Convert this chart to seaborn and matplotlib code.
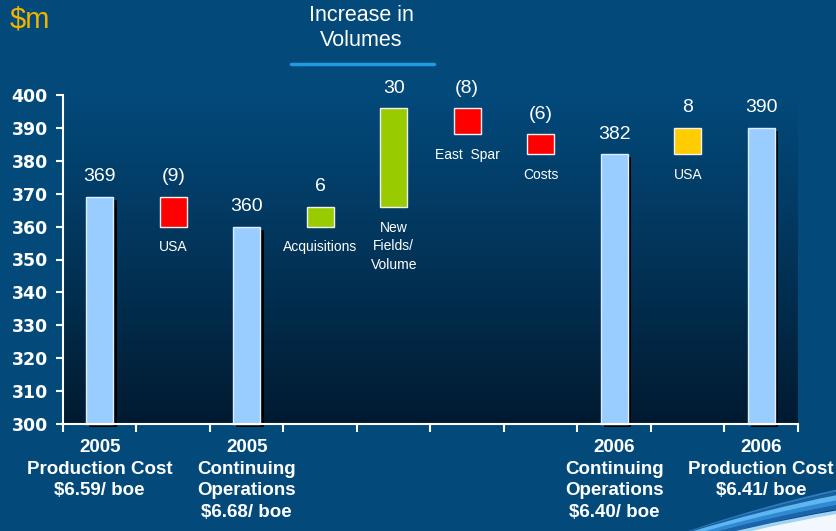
import numpy as np
import pandas as pd
import matplotlib
matplotlib.use("Agg")
import matplotlib.pyplot as plt
import matplotlib.patheffects as pe
from matplotlib.patches import Circle
import seaborn as sns

# ---------------- data ----------------
steps = ["2005 Production Cost", "USA 2005", "2005 Continuing Operations",
         "Acquisitions", "New Fields/Volume", "East Spar", "Costs",
         "2006 Continuing Operations", "USA 2006", "2006 Production Cost"]
step_values = [369, -9, 360, 6, 30, -8, -6, 382, 8, 390]
step_kinds = ["total", "decrease", "total", "increase", "increase",
              "decrease", "decrease", "total", "usa", "total"]
value_labels = ["369", "(9)", "360", "6", "30", "(8)", "(6)", "382", "8", "390"]
step_names = ["", "USA", "", "Acquisitions", "New\nFields/\nVolume",
              "East  Spar", "Costs", "", "USA", ""]
axis_labels = ["2005\nProduction Cost\n\\$6.59/ boe", "",
               "2005\nContinuing\nOperations\n\\$6.68/ boe", "", "", "", "",
               "2006\nContinuing\nOperations\n\\$6.40/ boe", "",
               "2006\nProduction Cost\n\\$6.41/ boe"]
y_ticks = list(range(300, 401, 10))
unit_label = "\\$m"
group_title = "Increase in\nVolumes"

kind_colors = {"total": "#99ccff", "decrease": "#ff0000",
               "increase": "#99cc00", "usa": "#ffcc00"}
BG = "#034a7b"
FLOOR = 300

# running totals -> floating bars
bottoms, tops = [], []
running = 0
for v, k in zip(step_values, step_kinds):
    if k == "total":
        running = v
        bottoms.append(FLOOR)
        tops.append(v)
    else:
        new = running + v
        bottoms.append(min(running, new))
        tops.append(max(running, new))
        running = new
bottoms = np.array(bottoms, dtype=float)
tops = np.array(tops, dtype=float)
df = pd.DataFrame({"step": steps, "height": tops - bottoms, "bottom": bottoms})

# ---------------- figure ----------------
sns.set_theme(style="white")
plt.rcParams["font.family"] = ["Liberation Sans", "DejaVu Sans"]

fig = plt.figure(figsize=(8.37, 5.31), dpi=100, facecolor=BG)

# decorative swoosh (bottom right), in figure pixel space
deco = fig.add_axes([0, 0, 1, 1], zorder=0)
deco.set_xlim(0, 837)
deco.set_ylim(531, 0)
deco.axis("off")
c_outer, r_outer = (1150, 1896), 1440
c_inner, r_inner = (1150, 2302.6), 1817.7


def swoosh(s):
    cy = c_outer[1] + s * (c_inner[1] - c_outer[1])
    r = r_outer + s * (r_inner - r_outer)
    return (c_outer[0], cy), r


for s, col, lw in [(0.0, "#2c7cc0", 1.5), (0.18, "#1d5f9e", 3),
                   (0.38, "#5db6f0", 4.5), (0.58, "#2f8ad2", 3.5),
                   (0.78, "#1c64aa", 3)]:
    c, r = swoosh(s)
    deco.add_patch(Circle(c, r, fill=False, ec=col, lw=lw))
c, r = swoosh(1.0)
deco.add_patch(Circle(c, r, fc="#f2f8fd", ec="#9fd2f4", lw=2.5))

ax = fig.add_axes([63 / 837, 1 - 424 / 531, 735 / 837, 329 / 531], zorder=1)
ax.patch.set_alpha(0)

# gradient background of plot area
top_c = np.array([3, 73, 122]) / 255
bot_c = np.array([1, 26, 48]) / 255
t = np.linspace(0, 1, 256)[:, None] ** 1.1
grad = top_c[None, :] * (1 - t) + bot_c[None, :] * t
ax.imshow(grad[:, None, :], extent=(0, 1, 0, 1), transform=ax.transAxes,
          aspect="auto", zorder=0, interpolation="bilinear")

sns.barplot(data=df, x="step", y="height", bottom=df["bottom"].values,
            width=0.37, color="#99ccff", edgecolor="white", linewidth=1.0,
            ax=ax, zorder=3)

for patch, kind in zip(ax.patches, step_kinds):
    patch.set_facecolor(kind_colors[kind])
    if kind == "total":
        patch.set_edgecolor("#dcefff")
        patch.set_clip_on(False)
        patch.set_path_effects([
            pe.SimplePatchShadow(offset=(2.3, -2.3), shadow_rgbFace="black", alpha=1),
            pe.Normal()])
    else:
        patch.set_edgecolor("#f2f2f2")

ax.set_xlim(-0.5, len(steps) - 0.5)
ax.set_ylim(FLOOR, 400)
ax.set_xlabel("")
ax.set_ylabel("")

# value labels and step names
for i in range(len(steps)):
    ax.annotate(value_labels[i], xy=(i, tops[i]), xytext=(0, 14.5),
                textcoords="offset points", ha="center", va="center",
                color="white", fontsize=14, zorder=5)
    if step_names[i]:
        ax.annotate(step_names[i], xy=(i, bottoms[i]), xytext=(0, -10),
                    textcoords="offset points", ha="center", va="top",
                    color="white", fontsize=10, linespacing=1.42, zorder=5)

# axes styling
for s in ["top", "right"]:
    ax.spines[s].set_visible(False)
for s in ["left", "bottom"]:
    ax.spines[s].set_color("white")
    ax.spines[s].set_linewidth(1.5)
    ax.spines[s].set_zorder(4)

ax.set_yticks(y_ticks)
ax.set_yticklabels([str(v) for v in y_ticks], fontfamily="DejaVu Sans",
                   fontweight="bold", fontsize=12.5, color="white")
ax.tick_params(axis="y", which="major", direction="out", length=5, width=1.5,
               color="white", pad=6, left=True)

ax.set_xticks(range(len(steps)))
ax.set_xticklabels(axis_labels, fontweight="bold", fontsize=13.5,
                   color="white", linespacing=1.38)
ax.tick_params(axis="x", which="major", length=0, pad=10.5)
ax.set_xticks(np.arange(-0.5, len(steps), 1), minor=True)
ax.tick_params(axis="x", which="minor", direction="out", length=6, width=1.5,
               color="white", bottom=True)

# titles
fig.text(10 / 837, 1 - 20 / 531, unit_label, color="#f0b400", fontsize=21,
         ha="left", va="center")
fig.text(361 / 837, 1 - 28 / 531, group_title, color="white", fontsize=15.5,
         ha="center", va="center", linespacing=1.28)
fig.add_artist(plt.Line2D([291 / 837, 434 / 837], [1 - 64 / 531, 1 - 64 / 531],
                          color="#1e9be2", lw=2.5, transform=fig.transFigure))

fig.savefig("out.png", dpi=100, facecolor=BG)
